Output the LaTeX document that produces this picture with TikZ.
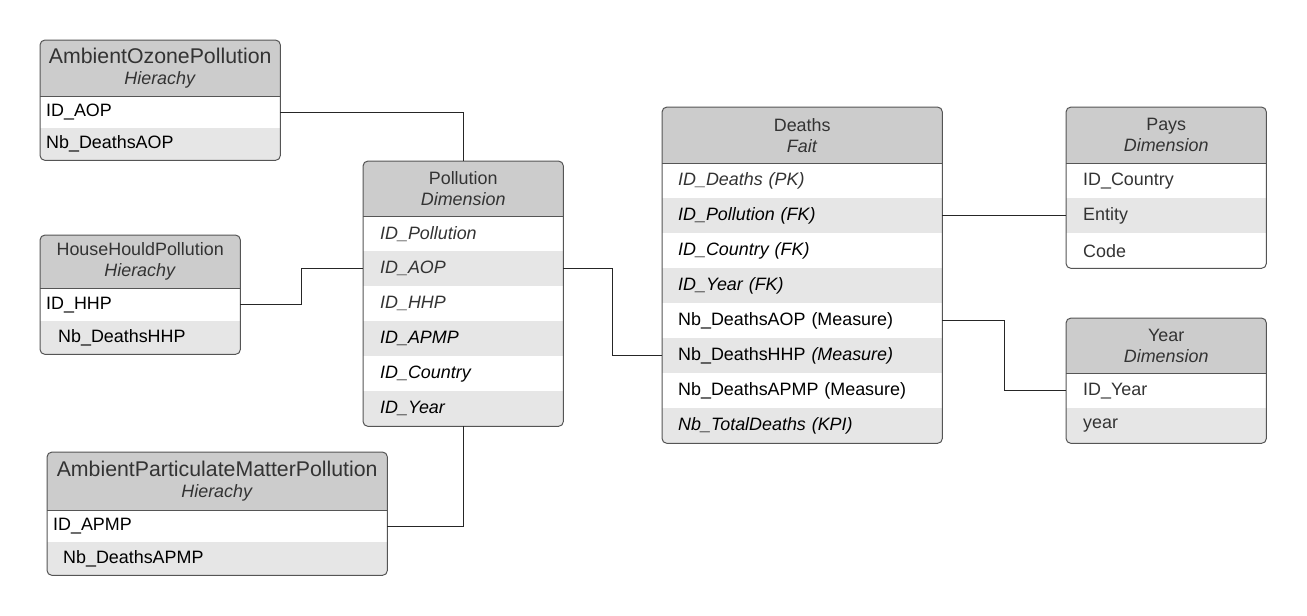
\documentclass[tikz,border=0pt]{standalone}
\usepackage{fontspec}
\setmainfont{Liberation Sans}
\definecolor{hdr}{HTML}{CCCCCC}
\definecolor{alt}{HTML}{E6E6E6}
\definecolor{bord}{HTML}{555555}
\definecolor{txt}{HTML}{333333}
\newcommand\fs{\fontsize{17.9}{21}\selectfont}
\newcommand\fb{\fontsize{21.3}{23}\selectfont}
\tikzset{
  cell/.style={anchor=north west, inner ysep=0pt, align=left, font=\fs, text=black},
  head/.style={anchor=north west, inner sep=0pt, fill=hdr, align=center, text=txt, font=\fs},
  wire/.style={draw=black!85, line width=0.9pt},
  frame/.style={draw=bord, line width=1pt, rounded corners=5pt},
  sepline/.style={draw=bord, line width=1pt},
}
% name, x, y, text width, pad, height, fill, text
\newcommand\trow[8]{\node[cell, fill=#7, minimum height=#6pt, text width=#4pt, inner xsep=#5pt] (#1) at (#2,#3) {#8};}
\begin{document}
\begin{tikzpicture}[x=1pt,y=-1pt]
\useasboundingbox (0,0) rectangle (1307,616);
\fill[white] (0,0) rectangle (1307,616);

% ---------- AmbientOzonePollution
\begin{scope}
\clip[rounded corners=5pt] (40,40) rectangle (280,160);
\node[head, minimum width=240pt, minimum height=56pt, text width=240pt] (aoph) at (40,40) {{\fb AmbientOzonePollution}\\\textit{Hierachy}};
\trow{aop1}{40}{96}{228}{6}{32}{white}{ID\_AOP}
\trow{aop2}{40}{128}{228}{6}{32}{alt}{Nb\_DeathsAOP}
\end{scope}
\draw[sepline] (aoph.south west) -- (aoph.south east);
\draw[frame] (aoph.north west) rectangle (aop2.south east);

% ---------- HouseHouldPollution
\begin{scope}
\clip[rounded corners=5pt] (40,235) rectangle (240,354);
\node[head, minimum width=200pt, minimum height=53pt, text width=200pt] (hhph) at (40,235) {HouseHouldPollution\\\textit{Hierachy}};
\trow{hhp1}{40}{288}{188}{6}{33}{white}{ID\_HHP}
\trow{hhp2}{40}{321}{164}{18}{33}{alt}{Nb\_DeathsHHP}
\end{scope}
\draw[sepline] (hhph.south west) -- (hhph.south east);
\draw[frame] (hhph.north west) rectangle (hhp2.south east);

% ---------- AmbientParticulateMatterPollution
\begin{scope}
\clip[rounded corners=5pt] (47,452) rectangle (387,575);
\node[head, minimum width=340pt, minimum height=58pt, text width=340pt] (apmph) at (47,452) {{\fb AmbientParticulateMatterPollution}\\\textit{Hierachy}};
\trow{apmp1}{47}{510}{328}{6}{32}{white}{ID\_APMP}
\trow{apmp2}{47}{542}{308}{16}{33}{alt}{Nb\_DeathsAPMP}
\end{scope}
\draw[sepline] (apmph.south west) -- (apmph.south east);
\draw[frame] (apmph.north west) rectangle (apmp2.south east);

% ---------- Pollution
\begin{scope}
\clip[rounded corners=5pt] (363,161) rectangle (563,426);
\node[head, minimum width=200pt, minimum height=55pt, text width=200pt] (polh) at (363,161) {Pollution\\\textit{Dimension}};
\trow{pol1}{363}{216}{166}{17}{35}{white}{\color{txt}\itshape ID\_Pollution}
\trow{pol2}{363}{251}{166}{17}{35}{alt}{\color{txt}\itshape ID\_AOP}
\trow{pol3}{363}{286}{166}{17}{35}{white}{\color{txt}\itshape ID\_HHP}
\trow{pol4}{363}{321}{166}{17}{35}{alt}{\itshape ID\_APMP}
\trow{pol5}{363}{356}{166}{17}{35}{white}{\itshape ID\_Country}
\trow{pol6}{363}{391}{166}{17}{35}{alt}{\itshape ID\_Year}
\end{scope}
\draw[sepline] (polh.south west) -- (polh.south east);
\draw[frame] (polh.north west) rectangle (pol6.south east);

% ---------- Deaths
\begin{scope}
\clip[rounded corners=5pt] (662,107) rectangle (942,443);
\node[head, minimum width=280pt, minimum height=56pt, text width=280pt] (dthh) at (662,107) {Deaths\\\textit{Fait}};
\trow{dth1}{662}{163}{248}{16}{35}{white}{\color{txt}\itshape ID\_Deaths (PK)}
\trow{dth2}{662}{198}{248}{16}{35}{alt}{\itshape ID\_Pollution (FK)}
\trow{dth3}{662}{233}{248}{16}{35}{white}{\itshape ID\_Country (FK)}
\trow{dth4}{662}{268}{248}{16}{35}{alt}{\itshape ID\_Year (FK)}
\trow{dth5}{662}{303}{248}{16}{35}{white}{Nb\_DeathsAOP (Measure)}
\trow{dth6}{662}{338}{248}{16}{35}{alt}{Nb\_DeathsHHP \textit{(Measure)}}
\trow{dth7}{662}{373}{248}{16}{35}{white}{Nb\_DeathsAPMP (Measure)}
\trow{dth8}{662}{408}{248}{16}{35}{alt}{\itshape Nb\_TotalDeaths (KPI)}
\end{scope}
\draw[sepline] (dthh.south west) -- (dthh.south east);
\draw[frame] (dthh.north west) rectangle (dth8.south east);

% ---------- Pays
\begin{scope}
\clip[rounded corners=5pt] (1066,107) rectangle (1266,268);
\node[head, minimum width=200pt, minimum height=56pt, text width=200pt] (paysh) at (1066,107) {Pays\\\textit{Dimension}};
\trow{pays1}{1066}{163}{166}{17}{35}{white}{\color{txt}ID\_Country}
\trow{pays2}{1066}{198}{166}{17}{35}{alt}{\color{txt}Entity}
\trow{pays3}{1066}{233}{166}{17}{35}{white}{\color{txt}Code}
\end{scope}
\draw[sepline] (paysh.south west) -- (paysh.south east);
\draw[frame] (paysh.north west) rectangle (pays3.south east);

% ---------- Year
\begin{scope}
\clip[rounded corners=5pt] (1066,318) rectangle (1266,443);
\node[head, minimum width=200pt, minimum height=55pt, text width=200pt] (yearh) at (1066,318) {Year\\\textit{Dimension}};
\trow{year1}{1066}{373}{166}{17}{35}{white}{\color{txt}ID\_Year}
\trow{year2}{1066}{408}{166}{17}{35}{alt}{\color{txt}year}
\end{scope}
\draw[sepline] (yearh.south west) -- (yearh.south east);
\draw[frame] (yearh.north west) rectangle (year2.south east);

% ---------- connectors
\draw[wire] (aop1.east) -| (polh.north);
\draw[wire] (hhp1.east) -- ++(61.5,0) |- (pol2.west);
\draw[wire] (apmp1.east) -| (pol6.south);
\draw[wire] (pol2.east) -- ++(49.5,0) |- (dth6.west);
\draw[wire] (dth2.east) -- (pays2.west);
\draw[wire] (dth5.east) -- ++(62,0) |- (year1.west);
\end{tikzpicture}
\end{document}
